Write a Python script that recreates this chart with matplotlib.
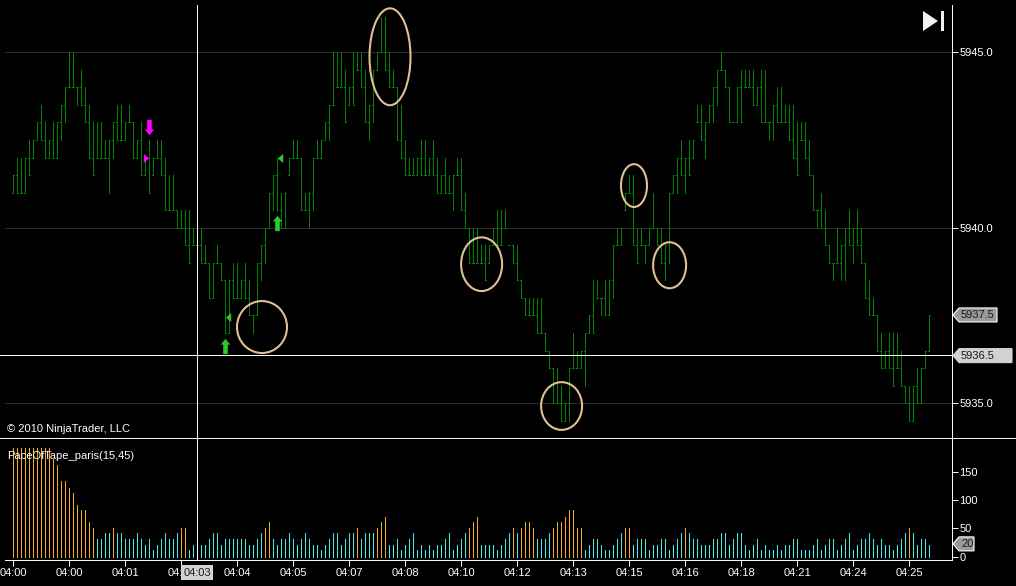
"""NinjaTrader style range bar chart with the PaceOfTape panel underneath."""

import matplotlib
matplotlib.use("Agg")
import matplotlib.pyplot as plt
import numpy as np
from matplotlib.lines import Line2D
from matplotlib.patches import Ellipse, Polygon
from matplotlib.path import Path

plt.rcParams["font.family"] = ["Liberation Sans", "DejaVu Sans"]

# Prices are stored as points above this base.
PRICE_BASE = 5900

high_pts = [
    41.5, 42, 42, 42, 42.5, 42.5, 43, 43.5, 43, 42.5,
    43, 43, 43.5, 44, 45, 45, 44, 44.5, 44, 43.5,
    43, 43, 43, 42.5, 42.5, 43, 43.5, 43.5, 43, 43.5,
    43, 42.5, 43, 42, 42.5, 42, 42.5, 42.5, 42, 41.5,
    41.5, 40.5, 40.5, 40.5, 40.5, 40, 40, 40, 39.5, 39,
    39, 39.5, 39, 38.5, 38.5, 39, 39, 38.5, 39, 38.5,
    37.5, 39, 39.5, 40, 41, 41.5, 42, 41, 41, 42,
    42.5, 42.5, 42, 41, 41, 42, 42.5, 42.5, 43, 43.5,
    45, 45, 45, 44.5, 44, 45, 45, 45, 44.5, 43.5,
    44.5, 45, 46, 46, 45, 44.5, 44, 43.5, 42.5, 42,
    42, 42, 42.5, 42.5, 42, 42.5, 42, 41.5, 42, 41.5,
    41.5, 42, 42, 41, 40, 40, 40, 39.5, 39.5, 39.5,
    40, 40.5, 40.5, 40.5, 39.5, 39.5, 39.5, 38.5, 38, 38,
    38, 38, 38, 37, 36.5, 36, 36, 35.5, 35, 36,
    37, 36.5, 36.5, 37, 37.5, 38.5, 38.5, 38, 38.5, 38.5,
    39.5, 40, 40, 41, 41.5, 41.5, 40, 40, 39.5, 40,
    41, 40, 40, 39.5, 41, 41.5, 42, 42.5, 42, 42.5,
    42.5, 43.5, 43.5, 43, 43.5, 44, 44.5, 45, 44.5, 44,
    43, 44, 44.5, 44.5, 44.5, 44.5, 44, 44.5, 44.5, 43,
    43.5, 44, 44, 43.5, 43.5, 43.5, 43, 43, 43, 42.5,
    41.5, 40.5, 41, 40.5, 39.5, 39, 40, 39.5, 40, 40.5,
    40, 40.5, 40, 39, 38.5, 38, 37.5, 37, 36.5, 37,
    37, 37, 36.5, 35.5, 35.5, 35.5, 36, 36, 36.5, 37.5,
]

low_pts = [
    41, 41, 41, 41, 41.5, 42, 42.5, 42.5, 42, 42,
    42, 42, 42.5, 43, 44, 44, 43.5, 43.5, 43, 42,
    41.5, 42, 42, 42, 41, 42, 42.5, 42.5, 42.5, 43,
    42, 42, 41.5, 41.5, 41, 41.5, 42, 41.5, 40.5, 40.5,
    40.5, 40, 40, 39.5, 39, 39.5, 39.5, 39, 39, 38,
    38, 39, 38.5, 37, 37, 38, 38, 38, 38, 37.5,
    37, 37.5, 38.5, 39, 40, 40.5, 40.5, 40, 40, 41.5,
    42, 42, 40.5, 40.5, 40, 40.5, 42, 42, 42.5, 42.5,
    43.5, 44, 44, 43, 43.5, 43.5, 44.5, 44, 43, 42.5,
    43, 44.5, 45, 44.5, 44, 44, 42.5, 42, 41.5, 41.5,
    41.5, 41.5, 41.5, 41.5, 41.5, 41.5, 41, 41, 41, 41,
    40.5, 41.5, 40.5, 40, 39, 39, 39, 39, 38.5, 39,
    39.5, 39.5, 39.5, 40, 39.5, 39, 38.5, 38, 37.5, 37.5,
    37.5, 37, 37, 36.5, 36, 35, 35, 34.5, 34.5, 34.5,
    36, 36, 36, 35.5, 37, 37, 38, 37.5, 37.5, 37.5,
    38, 39.5, 39.5, 40.5, 41, 39.5, 39, 39.5, 39, 39.5,
    40, 39.5, 39, 38.5, 39, 41, 41, 41.5, 41, 41.5,
    42, 43, 42.5, 42, 43, 43, 43.5, 44.5, 44, 43,
    43, 43, 43, 44, 44, 43.5, 43.5, 43, 43, 42.5,
    42.5, 43, 43, 43, 42.5, 42, 41.5, 42.5, 42, 41.5,
    40.5, 40, 40, 39.5, 39, 38.5, 39, 38.5, 38.5, 39.5,
    39, 39.5, 39, 38, 37.5, 37.5, 36.5, 36, 36, 36,
    35.5, 36, 35.5, 35, 34.5, 34.5, 35, 35, 36, 36.5,
]

pace_values = [
    192, 192, 192, 192, 192, 192, 192, 192, 192, 192,
    172, 162, 133, 133, 122, 112, 92, 82, 82, 61,
    51, 31, 31, 41, 41, 51, 41, 41, 31, 31,
    31, 41, 31, 20, 31, 12, 20, 31, 41, 31,
    31, 41, 51, 51, 12, 20, 20, 20, 20, 31,
    41, 41, 20, 31, 31, 31, 31, 31, 31, 20,
    20, 31, 41, 51, 61, 31, 20, 31, 31, 41,
    31, 20, 31, 41, 31, 20, 20, 12, 20, 31,
    41, 41, 20, 31, 41, 41, 51, 31, 41, 41,
    41, 51, 61, 71, 20, 20, 31, 12, 20, 31,
    41, 12, 20, 12, 20, 12, 20, 20, 31, 41,
    12, 20, 31, 41, 51, 61, 71, 20, 20, 20,
    20, 12, 20, 31, 41, 51, 41, 51, 61, 61,
    51, 31, 31, 31, 41, 51, 61, 61, 71, 82,
    82, 51, 51, 12, 20, 31, 31, 20, 12, 12,
    20, 31, 41, 51, 51, 20, 31, 31, 31, 12,
    20, 20, 31, 31, 12, 20, 31, 41, 51, 41,
    31, 31, 20, 20, 20, 31, 31, 41, 41, 20,
    31, 41, 41, 20, 12, 20, 31, 12, 20, 12,
    12, 20, 12, 20, 20, 31, 31, 12, 12, 12,
    20, 31, 12, 20, 31, 31, 12, 20, 31, 41,
    12, 20, 31, 31, 41, 31, 20, 31, 20, 20,
    12, 20, 31, 41, 51, 41, 20, 31, 31, 20,
]
pace_threshold = 45

time_labels = ["04:00", "04:00", "04:01", "04:02", "04:04", "04:05", "04:07", "04:08", "04:10",
               "04:12", "04:13", "04:15", "04:16", "04:18", "04:21", "04:24", "04:25"]
price_ticks = [5945.0, 5940.0, 5935.0]
pace_ticks = [0, 50, 100, 150]

# Hand drawn circles: bar, price, width in bars, height in price.
circle_bar = [62.2, 94.2, 117.1, 137.1, 155.2, 164.1]
circle_price = [5937.17, 5944.87, 5938.96, 5934.92, 5941.2, 5938.93]
circle_width = [12.5, 10.25, 10.25, 10.25, 6.5, 8.25]
circle_height = [1.48, 2.76, 1.53, 1.36, 1.22, 1.31]

crosshair_bar = 46
crosshair_price = 5936.37

FIG_W, FIG_H = 1016, 586
# The .2 offsets land snapped one pixel lines on the reference's pixel rows.
AXIS_X = 952.2
PRICE_TOP, PANEL_SPLIT, PANEL_BOTTOM = 5, 438.2, 560.2
BAR0_X, BAR_STEP = 13.2, 4
PX_PER_POINT = 35.1
PRICE_REF_Y = 52.2
PACE_ZERO_Y, PX_PER_PACE = 556.7, 0.566

GREEN = "#008000"
ORANGE = "#f5a623"
CYAN = "#40ecec"
GRID = "#2c2c2c"
TAN = "#e2bf93"
THIN = 0.7

highs = PRICE_BASE + np.array(high_pts)
lows = PRICE_BASE + np.array(low_pts)
pace = np.array(pace_values)
bars = np.arange(len(highs))

# Close sits where the next bar continues, open on the previous close.
closes = np.where(np.append(highs[1:], highs[-1]) > highs, highs, lows)
closes[-1] = highs[-1]
opens = np.clip(np.insert(closes[:-1], 0, lows[0]), lows, highs)


def add_axes_px(top, bottom):
    return fig.add_axes([0, 1 - bottom / FIG_H, AXIS_X / FIG_W, (bottom - top) / FIG_H])


def style_axes(ax):
    ax.set_facecolor("black")
    ax.set_xlim(-BAR0_X / BAR_STEP, (AXIS_X - BAR0_X) / BAR_STEP)
    ax.yaxis.tick_right()
    ax.tick_params(axis="y", colors="white", length=4.3, width=THIN, pad=1, labelsize=8)
    for name in ["top", "left", "bottom"]:
        ax.spines[name].set_visible(False)
    ax.spines["right"].set_color("white")
    ax.spines["right"].set_linewidth(THIN)


def add_tag(y_px, x_end, label, fill, edge):
    shape = [(953, y_px), (959, y_px - 7), (x_end, y_px - 7), (x_end, y_px + 7), (959, y_px + 7)]
    overlay.add_patch(Polygon(shape, closed=True, facecolor=fill, edgecolor=edge, linewidth=0.8))
    overlay.text(961, y_px + 0.5, label, color="#1a1a1a", fontsize=8, va="center", ha="left")


def data_y_px(ax, value):
    return FIG_H - ax.transData.transform((0, value))[1]


fig = plt.figure(figsize=(FIG_W / 100, FIG_H / 100), dpi=100, facecolor="black")

# Price panel
ax = add_axes_px(PRICE_TOP, PANEL_SPLIT)
style_axes(ax)
ax.set_ylim(5945 - (PANEL_SPLIT - PRICE_REF_Y) / PX_PER_POINT,
            5945 + (PRICE_REF_Y - PRICE_TOP) / PX_PER_POINT)
ax.set_xticks([])
ax.set_yticks(price_ticks)
ax.set_yticklabels([f"{p:.1f}" for p in price_ticks])

grid_start = 5 / AXIS_X
for p in price_ticks:
    ax.axhline(p, xmin=grid_start, color=GRID, linewidth=THIN, zorder=1)

ax.vlines(bars, lows, highs, color=GREEN, linewidth=THIN, antialiased=False, capstyle="butt", zorder=2)
ax.hlines(opens, bars - 0.3, bars, color=GREEN, linewidth=THIN, antialiased=False, capstyle="butt", zorder=2)
ax.hlines(closes, bars, bars + 0.3, color=GREEN, linewidth=THIN, antialiased=False, capstyle="butt", zorder=2)

ax.axvline(crosshair_bar, color="white", linewidth=THIN, zorder=4)
ax.axhline(crosshair_price, color="white", linewidth=THIN, zorder=4)

for b, p, w, h in zip(circle_bar, circle_price, circle_width, circle_height):
    ax.add_patch(Ellipse((b, p), w, h, fill=False, edgecolor=TAN, linewidth=1.5, zorder=5, clip_on=False))

# Trade signals
up_arrow = Path([(-0.3, -1), (0.3, -1), (0.3, 0.25), (0.62, 0.25), (0, 1), (-0.62, 0.25), (-0.3, 0.25), (-0.3, -1)], closed=True)
down_arrow = Path([(-0.3, 1), (0.3, 1), (0.3, -0.25), (0.62, -0.25), (0, -1), (-0.62, -0.25), (-0.3, -0.25), (-0.3, 1)], closed=True)
tri_left = Path([(0.6, -1), (0.6, 1), (-0.6, 0), (0.6, -1)], closed=True)
tri_right = Path([(-0.6, -1), (-0.6, 1), (0.6, 0), (-0.6, -1)], closed=True)

ax.plot([34], [5942.87], marker=down_arrow, ms=11, color="#ff00ff", mew=0, zorder=6)
ax.plot([33.25], [5942.0], marker=tri_right, ms=6.5, color="#ff00ff", mew=0, zorder=6)
ax.plot([66, 53], [5940.12, 5936.62], ls="none", marker=up_arrow, ms=11, color="#2fc82f", mew=0, zorder=6)
ax.plot([66.6, 53.75], [5942.0, 5937.47], ls="none", marker=tri_left, ms=6.5, color="#2fc82f", mew=0, zorder=6)

# Pace panel
ax2 = add_axes_px(PANEL_SPLIT, PANEL_BOTTOM)
style_axes(ax2)
ax2.set_ylim((PACE_ZERO_Y - PANEL_BOTTOM) / PX_PER_PACE, (PACE_ZERO_Y - PANEL_SPLIT) / PX_PER_PACE)
ax2.set_yticks(pace_ticks)
ax2.vlines(bars, 0, pace, colors=np.where(pace > pace_threshold, ORANGE, CYAN).tolist(),
           linewidth=THIN, antialiased=False, capstyle="butt", zorder=2)
ax2.axvline(crosshair_bar, color="white", linewidth=THIN, zorder=4)

ax2.spines["bottom"].set_visible(True)
ax2.spines["bottom"].set_color("white")
ax2.spines["bottom"].set_linewidth(THIN)
ax2.spines["bottom"].set_bounds((5 - BAR0_X) / BAR_STEP, (AXIS_X - BAR0_X) / BAR_STEP)
ax2.set_xticks(bars[::14][:len(time_labels)])
ax2.set_xticklabels(time_labels)
ax2.tick_params(axis="x", colors="white", length=4.3, width=THIN, pad=1.5, labelsize=8)

ax2.annotate("04:03", xy=(crosshair_bar, 0), xycoords=("data", "axes fraction"), xytext=(0, -9),
             textcoords="offset points", ha="center", va="center", fontsize=8, color="#1a1a1a",
             bbox=dict(boxstyle="square,pad=0.2", facecolor="#d2d2d2", edgecolor="none"),
             annotation_clip=False, zorder=8)

# Pixel overlay for chart chrome
overlay = fig.add_axes([0, 0, 1, 1], facecolor="none")
overlay.set_xlim(0, FIG_W)
overlay.set_ylim(FIG_H, 0)
overlay.axis("off")

fig.add_artist(Line2D([0, 1], [1 - PANEL_SPLIT / FIG_H] * 2, color="white", linewidth=THIN))

overlay.text(7, 429, "© 2010 NinjaTrader, LLC", color="white", fontsize=8, va="center", ha="left")
overlay.text(7, 456, "PaceOfTape_paris(15,45)", color="white", fontsize=8, va="center", ha="left")

# Skip-to-end icon
overlay.add_patch(Polygon([(923, 11), (923, 31), (938, 21)], closed=True, facecolor="#f2f2f2", edgecolor="none"))
overlay.add_patch(Polygon([(941, 11), (944, 11), (944, 31), (941, 31)], closed=True, facecolor="#f2f2f2", edgecolor="none"))

add_tag(data_y_px(ax, highs[-1]) - 0.5, 997, f"{highs[-1]:.1f}", "#9a9a9a", "white")
add_tag(data_y_px(ax, crosshair_price) + 0.5, 1012, "5936.5", "#d2d2d2", "#d2d2d2")
add_tag(data_y_px(ax2, pace[-1]) - 1.5, 974, f"{pace[-1]}", "#9a9a9a", "white")

fig.savefig("out.png", dpi=100, facecolor="black")
plt.close(fig)
